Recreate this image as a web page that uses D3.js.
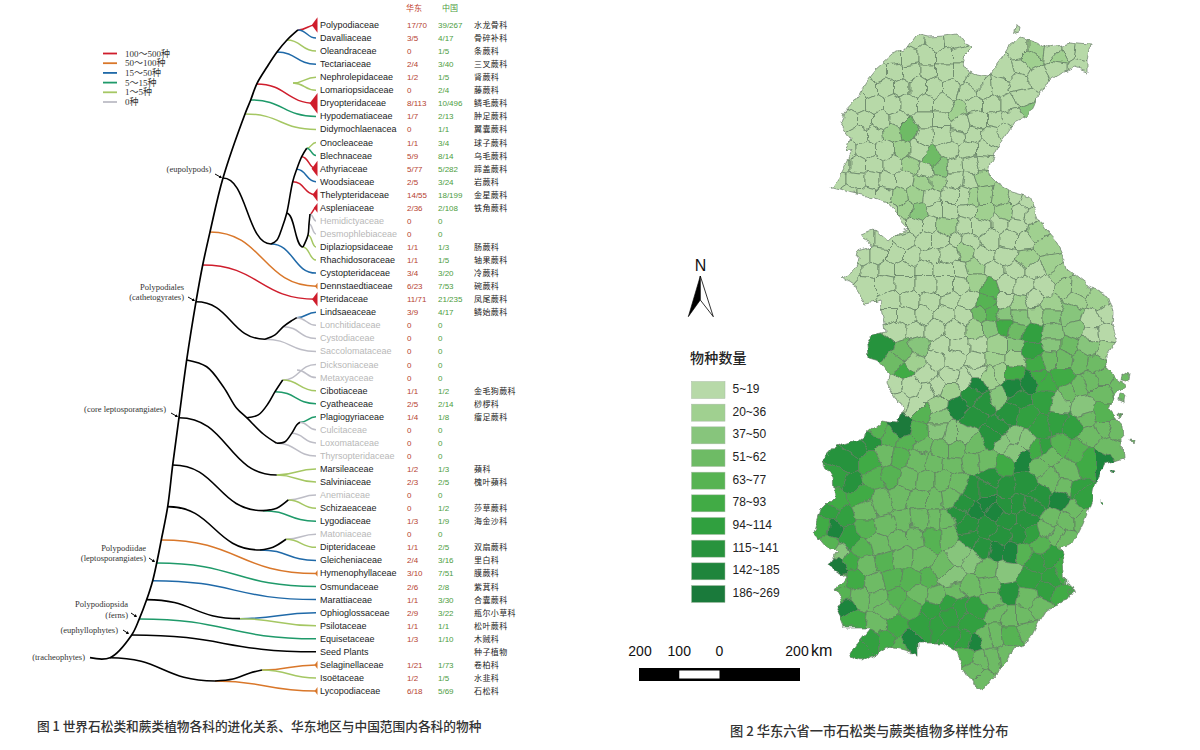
<!DOCTYPE html>
<html lang="zh"><head><meta charset="utf-8">
<script src="https://cdn.jsdelivr.net/npm/d3@7/dist/d3.min.js"></script>
<style>html,body{margin:0;background:#fff}svg{display:block}</style></head>
<body><svg id="c" width="1200" height="750"></svg>
<script>
// ---------- data ----------
const families=["Polypodiaceae","Davalliaceae","Oleandraceae","Tectariaceae","Nephrolepidaceae","Lomariopsidaceae","Dryopteridaceae","Hypodematiaceae","Didymochlaenacea","Onocleaceae","Blechnaceae","Athyriaceae","Woodsiaceae","Thelypteridaceae","Aspleniaceae","Hemidictyaceae","Desmophlebiaceae","Diplaziopsidaceae","Rhachidosoraceae","Cystopteridaceae","Dennstaedtiaceae","Pteridaceae","Lindsaeaceae","Lonchitidaceae","Cystodiaceae","Saccolomataceae","Dicksoniaceae","Metaxyaceae","Cibotiaceae","Cyatheaceae","Plagiogyriaceae","Culcitaceae","Loxomataceae","Thyrsopteridaceae","Marsileaceae","Salviniaceae","Anemiaceae","Schizaeaceae","Lygodiaceae","Matoniaceae","Dipteridaceae","Gleicheniaceae","Hymenophyllaceae","Osmundaceae","Marattiaceae","Ophioglossaceae","Psilotaceae","Equisetaceae","Seed Plants","Selaginellaceae","Isoëtaceae","Lycopodiaceae"];
const eastCounts=["17/70","3/5","0","2/4","1/2","0","8/113","1/7","0","1/1","5/9","5/77","2/5","14/55","2/36","0","0","1/1","1/1","3/4","6/23","11/71","3/9","0","0","0","0","0","1/1","2/5","1/4","0","0","0","1/2","2/3","0","0","1/3","0","1/1","2/4","3/10","2/6","1/1","2/9","1/1","1/3","","1/21","1/2","6/18"];
const chinaCounts=["39/267","4/17","1/5","3/40","1/5","2/4","10/496","2/13","1/1","3/4","8/14","5/282","3/24","18/199","2/108","0","0","1/3","1/5","3/20","7/53","21/235","4/17","0","0","0","0","0","1/2","2/14","1/8","0","0","0","1/3","2/5","0","1/2","1/9","0","2/5","3/16","7/51","2/8","3/30","3/22","1/1","1/10","","1/73","1/5","5/69"];
const cnNames=["水龙骨科","骨碎补科","条蕨科","三叉蕨科","肾蕨科","藤蕨科","鳞毛蕨科","肿足蕨科","翼囊蕨科","球子蕨科","乌毛蕨科","蹄盖蕨科","岩蕨科","金星蕨科","铁角蕨科","","","肠蕨科","轴果蕨科","冷蕨科","碗蕨科","凤尾蕨科","鳞始蕨科","","","","","","金毛狗蕨科","桫椤科","瘤足蕨科","","","","蘋科","槐叶蘋科","","莎草蕨科","海金沙科","","双扇蕨科","里白科","膜蕨科","紫萁科","合囊蕨科","瓶尔小草科","松叶蕨科","木贼科","种子植物","卷柏科","水韭科","石松科"];
// tree nodes as [age, row]
const backbone=[[0,48.45],[20,48.45],[41.7,46.71],[49.3,45.48],[56.7,44.0],[62.7,42.55],[66.7,41.2],[71.3,39.43],[77.7,36.88],[82.7,33.69],[89,30.07],[96.7,25.65],[106,21.19],[112.7,18.38],[120,15.85],[133,11.72],[155,6.81],[160.7,5.74],[166.7,4.52],[177,3.22],[187,2.07],[197,1.15],[208,0.38]];
// leaf branches: start node per family, same order as families
const leafStart=[[208,.38],[208,.38],[197,1.15],[187,2.07],[203,4.44],[203,4.44],[166.7,4.52],[160.7,5.74],[155,6.81],[216.7,9.44],[216.7,9.44],[211.7,10.08],[206.7,11.05],[202.7,12.0],[220,14.47],[220,14.47],[219,15.24],[218,16.08],[213,17.0],[181,16.77],[120,15.85],[112.7,18.38],[206.7,22.41],[206.7,22.41],[193.3,23.1],[175,24.06],[192.7,27.18],[207,26.42],[192.7,27.18],[185,28.08],[210,30.42],[210,30.42],[201.7,31.27],[186.7,32.03],[186.7,34.46],[186.7,34.46],[198.3,36.37],[198.3,36.37],[173,37.19],[196,39.38],[196,39.38],[170,40.2],[71.3,39.43],[66.7,41.2],[62.7,42.55],[150,45.46],[150,45.46],[49.3,45.48],[41.7,46.71],[172,49.39],[172,49.39],[125,50.23]];
// S-shaped internal stems
const stems=[[[133,11.72],[181,16.77]],[[196.7,14.42],[213,17.0]],[[106,21.19],[175,24.06]],[[89,30.07],[186.7,34.46]],[[82.7,33.69],[173,37.19]],[[77.7,36.88],[170,40.2]],[[56.7,44.0],[150,45.46]],[[20,48.45],[125,50.23]]];
// internal stems read point by point
const risers=[
 [[181,16.77],[187,16.46],[192,15.54],[196.7,14.42],[202.7,12.0],[206.7,11.05],[211.7,10.08],[216.7,9.44]],
 [[213,17.0],[218,16.08],[219,15.24],[220,14.47]],
 [[175,24.06],[185,23.73],[193.3,23.1],[201.7,22.64],[206.7,22.41]],
 [[96.7,25.65],[116.7,26.17],[133.3,27.7],[146.7,29.35],[156.7,30.07],[173.3,31.32],[186.7,32.03]],
 [[156.7,30.07],[168.3,29.86],[178.3,28.97],[185,28.08],[192.7,27.18]],
 [[186.7,32.03],[195,31.91],[201.7,31.27],[206.7,30.63],[210,30.42]],
 [[173,37.19],[186.7,37.0],[198.3,36.37]],
 [[170,40.2],[183,39.99],[196,39.38]],
 [[125,50.23],[143,50.08],[160,49.62],[172,49.39]]];
const legendLabels=["100～500种","50～100种","15～50种","5～15种","1～5种","0种"];
const legendTotals=[200,60,20,10,2,0];
const cladeNames=[["(eupolypods)"],["Polypodiales","(cathetogyrates)"],["(core leptosporangiates)"],["Polypodiidae","(leptosporangiates)"],["Polypodiopsida","(ferns)"],["(euphyllophytes)"],["(tracheophytes)"]];
const speciesClasses=["5~19","20~36","37~50","51~62","63~77","78~93","94~114","115~141","142~185","186~269"];
const scaleTicks=[-200,-100,0,200];
const scaleLabels=["200","100","0","200"];
// map outline: [east, north-down] in map units
const mapOutline=[[117,33],[130,36],[145,35],[158,33],[165,42],[172,48],[162,58],[165,68],[177,75],[188,77],[193,70],[202,58],[210,45],[222,37],[237,42],[247,48],[260,45],[270,43],[290,45],[287,62],[287,72],[275,68],[263,73],[253,80],[238,92],[233,105],[227,117],[215,123],[207,135],[198,147],[190,163],[188,173],[198,183],[212,192],[230,197],[238,217],[247,232],[257,243],[265,260],[268,270],[287,285],[307,295],[313,313],[312,323],[317,340],[307,355],[307,370],[327,385],[315,395],[310,410],[322,425],[324,457],[305,463],[295,483],[292,500],[283,523],[273,543],[260,547],[263,560],[265,583],[275,588],[267,600],[248,607],[240,620],[230,640],[213,650],[207,662],[192,678],[183,690],[173,683],[165,670],[158,652],[143,643],[117,643],[117,655],[105,650],[87,647],[62,662],[50,656],[60,640],[70,628],[43,628],[35,607],[43,595],[36,590],[45,577],[28,565],[38,550],[27,547],[15,533],[22,510],[35,497],[33,480],[23,460],[35,447],[57,440],[82,420],[98,422],[102,413],[100,405],[87,382],[88,372],[78,360],[68,357],[67,345],[73,335],[85,332],[80,300],[67,303],[57,287],[42,277],[55,267],[58,253],[73,247],[63,233],[73,229],[88,242],[98,233],[108,228],[98,217],[90,205],[67,197],[50,193],[32,188],[42,172],[53,150],[45,152],[50,137],[40,123],[43,113],[55,100],[67,80],[75,70],[92,55],[105,50]];
const mapIslands=[[[322,372],[329,374],[328,381],[321,379]],[[321,394],[326,395],[325,402],[320,400]],[[268,590],[273,588],[275,594],[269,596]],[[216,26],[220,28],[219,33],[215,31]],[[318,412],[322,414],[320,419]],[[330,440],[333,441],[332,445]],[[312,470],[315,471],[313,474]],[[300,500],[303,501],[301,504]]];
// county seeds: [east, north-down, species class]
const countySeeds=[
[115,40,0],[135,42,0],[155,40,0],[93,56,0],[110,56,0],[128,56,0],[145,56,0],[160,56,0],[220,50,0],[236,50,1],[252,52,0],[268,52,0],[282,54,0],
[78,72,0],[95,72,0],[112,72,0],[128,72,0],[145,72,0],[160,72,0],[176,82,0],[205,70,0],[222,66,0],[230,60,1],[258,57,1],[278,68,0],
[68,88,0],[85,88,0],[102,88,0],[118,88,0],[135,88,0],[150,88,0],[168,92,0],[185,90,0],[200,88,0],[218,82,0],[238,75,0],[256,68,0],
[58,104,0],[75,104,0],[92,104,0],[108,104,0],[125,104,0],[142,104,0],[155,113,1],[175,104,0],[192,104,0],[208,104,0],[222,98,0],[227,110,2],
[50,120,0],[65,120,0],[82,120,0],[98,120,0],[125,120,0],[142,120,0],[160,124,0],[178,120,0],[195,120,0],[212,118,0],
[58,135,0],[75,135,0],[93,133,1],[108,130,3],[125,136,0],[142,135,0],[158,136,0],[175,135,0],[192,136,0],[204,130,0],
[48,150,0],[66,150,0],[85,150,0],[100,150,1],[118,150,0],[132,160,3],[150,150,0],[168,150,0],[185,150,0],
[42,165,0],[58,165,0],[75,165,0],[93,165,0],[110,167,1],[125,170,0],[140,167,2],[155,166,0],[172,165,0],[184,162,0],
[38,180,0],[56,180,0],[72,180,0],[88,180,0],[105,180,0],[122,183,1],[138,182,1],[155,180,0],[170,182,0],[182,178,1],
[48,195,0],[68,195,0],[85,195,0],[97,197,1],[115,195,1],[132,197,0],[150,195,0],[165,195,0],[173,197,1],[185,195,1],[200,197,1],[215,200,0],[226,205,0],
[90,210,0],[105,210,1],[120,213,2],[135,210,0],[150,210,0],[168,212,0],[185,212,1],[205,210,1],[220,212,0],[232,215,0],
[100,226,0],[115,226,0],[130,226,0],[147,227,1],[165,226,0],[180,226,0],[200,226,0],[218,226,0],[238,230,1],
[68,240,0],[80,240,0],[105,240,0],[125,240,0],[140,240,0],[155,240,0],[170,242,0],[190,240,0],[208,240,0],[225,240,0],[247,247,1],
[62,255,0],[78,255,0],[95,255,0],[112,255,0],[130,255,0],[150,255,0],[165,250,1],[185,255,0],[205,255,0],[227,260,1],[250,263,1],
[52,270,0],[70,270,0],[88,270,0],[105,270,0],[125,270,0],[145,270,0],[162,270,0],[175,267,1],[195,270,0],[215,270,0],[235,270,0],[258,275,1],
[68,285,0],[85,285,0],[105,285,0],[125,285,0],[145,285,0],[160,285,0],[175,283,1],[190,290,4],[205,285,0],[225,285,0],[245,285,0],[263,287,1],[280,288,1],
[90,300,0],[110,300,0],[130,300,0],[150,300,0],[170,300,0],[185,303,4],[205,300,0],[220,305,1],[235,300,0],[250,305,1],[275,300,1],[297,303,1],
[90,315,0],[105,315,0],[125,315,0],[145,315,0],[165,315,0],[180,313,3],[193,312,4],[203,315,2],[220,317,2],[236,315,1],[250,315,2],[270,312,2],[293,320,0],[305,315,0],
[95,330,0],[115,330,0],[135,330,0],[155,330,0],[175,330,1],[190,330,2],[203,327,5],[217,330,3],[233,333,6],[252,335,2],[275,332,2],[292,335,0],[307,333,0],
[82,347,7],[102,353,3],[120,348,2],[140,345,0],[160,345,0],[178,345,0],[198,345,1],[215,345,2],[233,350,6],[252,345,2],[270,345,3],[290,345,2],[305,350,1],
[95,362,3],[115,362,1],[135,360,0],[155,360,0],[175,360,0],[195,360,1],[215,360,1],[237,364,5],[250,360,3],[263,360,3],[280,362,3],[295,364,3],
[103,372,5],[125,374,0],[150,377,0],[140,386,0],[165,380,0],[177,373,0],[190,378,1],[200,373,1],[213,373,5],[237,377,5],[263,377,5],[290,380,3],[303,378,3],
[95,385,0],[110,387,0],[127,393,0],[150,390,1],[170,393,7],[177,385,8],[185,400,7],[197,397,2],[213,387,8],[230,381,8],[245,385,5],[280,387,3],[270,392,3],[303,393,3],[317,387,3],
[100,400,0],[115,405,0],[135,405,1],[157,407,8],[173,418,7],[220,400,7],[243,400,6],[260,403,2],[283,407,2],[303,413,4],
[123,413,4],[140,418,2],[210,413,7],[227,417,6],[240,427,6],[257,423,6],[273,427,6],[287,420,3],[303,428,3],[315,432,3],
[70,440,7],[57,447,7],[77,430,4],[90,437,4],[102,428,9],[107,442,4],[117,432,4],[125,445,3],[140,430,2],[150,433,2],[165,433,2],[175,445,3],[155,450,3],[140,450,3],[190,437,7],[200,427,7],[205,445,2],[215,437,2],[225,440,2],[238,448,5],[243,447,6],[290,433,3],[310,447,3],
[47,463,7],[70,463,5],[40,477,6],[53,483,7],[85,455,3],[100,458,4],[118,460,3],[135,463,3],[153,465,3],[172,462,3],[187,460,3],[205,462,5],[223,462,8],[213,452,2],[250,457,3],[240,467,3],[267,470,3],[287,463,5],[302,463,8],[275,450,4],[262,445,4],
[75,478,4],[92,475,4],[108,478,3],[125,480,3],[143,480,3],[158,482,3],[173,490,7],[190,480,7],[205,490,7],[227,483,7],[250,480,3],[265,488,3],[277,490,6],[60,495,5],[35,500,5],
[30,512,6],[43,517,6],[65,510,3],[82,505,3],[100,497,3],[118,500,3],[135,500,3],[150,498,3],[185,503,8],[167,523,7],[187,527,7],[207,520,7],[217,533,7],[233,507,7],[260,500,8],[283,497,6],[273,510,3],
[165,505,7],[205,505,7],[218,505,7],[226,520,7],[195,512,8],[175,510,8],[185,490,7],[240,495,7],[158,515,7],[170,540,7],[197,552,8],[210,552,8],[183,548,7],
[25,527,5],[33,528,8],[50,537,6],[65,528,4],[85,525,3],[102,520,3],[120,518,3],[135,520,3],[145,520,3],[253,517,3],[267,520,3],[283,520,3],[248,530,3],
[40,553,2],[28,545,4],[62,550,4],[80,545,3],[98,540,3],[115,540,3],[132,538,4],[148,537,3],[203,535,7],[230,535,6],[240,545,4],[255,535,3],[265,540,3],
[37,567,9],[50,560,5],[68,565,3],[85,562,4],[103,558,3],[122,560,3],[143,567,3],[160,552,2],[172,562,2],[187,570,3],[223,552,4],[237,563,6],[250,557,6],[207,573,2],
[40,583,4],[53,580,5],[75,582,3],[92,578,4],[110,580,4],[128,578,4],[153,577,2],[170,587,3],[190,585,3],[230,580,6],[253,577,6],[263,570,5],
[43,595,4],[60,597,3],[78,600,3],[98,598,4],[118,595,3],[135,598,3],[155,592,3],[190,600,3],[210,593,7],[227,597,3],[245,592,6],[262,595,5],
[45,607,8],[53,620,5],[77,623,3],[85,610,3],[110,607,4],[133,607,6],[150,603,6],[160,607,6],[177,607,6],[197,613,3],[210,617,3],[223,617,3],[240,605,3],
[70,640,6],[87,640,5],[97,627,5],[110,640,8],[123,627,6],[137,627,6],[150,617,6],[170,623,6],[197,637,3],[210,635,4],[225,630,3],
[60,650,6],[100,645,4],[150,637,6],[175,643,8],[165,640,6],[185,640,3],[167,657,4],[180,660,3],[193,657,3],[205,655,3],[173,670,3],[183,680,3]];

// ---------- layout ----------
const svg=d3.select("#c");
const latin="'Liberation Sans',Arial,sans-serif", serif="'Liberation Serif','Times New Roman',serif", cjk="'Noto Sans CJK SC',sans-serif";
const x=d3.scaleLinear().domain([0,227]).range([90,317]);
const y=d3.scaleLinear().domain([0,51]).range([25,691]);
const levelColor=d3.scaleThreshold().domain([1,6,15,50,100]).range(["#bdbdc6","#a5c763","#1f9a6a","#1f69a8","#d9772a","#cf1d2c"]);
const totalOf=s=>s===""?null:+s.split("/").pop();
const triSize=d3.scaleSqrt().domain([0,500]).range([0,10.5]);
const link=d3.linkHorizontal().x(d=>x(d[0])).y(d=>y(d[1]));
const g=svg.append("g").attr("fill","none");

families.forEach((f,i)=>{
  const t=totalOf(chinaCounts[i]);
  g.append("path").attr("d",link({source:leafStart[i],target:[226,i]}))
    .attr("stroke",t===null?"#000":levelColor(t)).attr("stroke-width",1.5);
});
stems.forEach(s=>g.append("path").attr("d",link({source:s[0],target:s[1]})).attr("stroke","#000").attr("stroke-width",1.6));
const smooth=d3.line().x(d=>x(d[0])).y(d=>y(d[1])).curve(d3.curveCatmullRom.alpha(.5));
risers.forEach(r=>g.append("path").attr("d",smooth(r)).attr("stroke","#000").attr("stroke-width",1.6));
g.append("path").attr("d",smooth(backbone)).attr("stroke","#000").attr("stroke-width",1.7);
families.forEach((f,i)=>{
  const t=totalOf(chinaCounts[i]);
  if(t===null||t<50) return;
  const h=triSize(t), yy=y(i), bx=x(227.5);
  g.append("path").attr("d",d3.line()([[bx-h*.75,yy],[bx,yy-h],[bx,yy+h]])+"Z").attr("fill",levelColor(t));
});
const rows=svg.append("g");
families.forEach((f,i)=>{
  const yy=y(i)+3;
  const zero=totalOf(chinaCounts[i])===0;
  rows.append("text").attr("x",320).attr("y",yy).text(f).attr("font-family",latin).attr("font-size",9).attr("fill",zero?"#b8b8b8":"#1c1c1c");
  rows.append("text").attr("x",407).attr("y",yy).text(eastCounts[i]).attr("font-family",latin).attr("font-size",8).attr("fill","#b5412f");
  rows.append("text").attr("x",438).attr("y",yy).text(chinaCounts[i]).attr("font-family",latin).attr("font-size",8).attr("fill","#4c9c3e");
  rows.append("text").attr("x",474).attr("y",yy).text(cnNames[i]).attr("font-family",cjk).attr("font-size",8).attr("letter-spacing",.4).attr("fill","#222");
});
rows.append("text").attr("x",406).attr("y",11).text("华东").attr("font-family",cjk).attr("font-size",8).attr("fill","#c1402c");
rows.append("text").attr("x",442).attr("y",11).text("中国").attr("font-family",cjk).attr("font-size",8).attr("fill","#4c9c3e");

legendLabels.forEach((l,i)=>{
  const ly=d3.scaleLinear().domain([0,5]).range([53.5,102])(i);
  svg.append("line").attr("x1",103).attr("x2",117).attr("y1",ly).attr("y2",ly).attr("stroke",levelColor(legendTotals[i])).attr("stroke-width",1.8);
  svg.append("text").attr("x",125).attr("y",ly+3).text(l).attr("font-family",serif+","+cjk).attr("font-size",9).attr("fill","#333");
});
const cladeLayout=[{a:189,ys:[172],anchor:"middle",arrow:[215,174,222,178]},
 {a:184,ys:[290,300],anchor:"end",arrow:[188,297,195,301]},
 {a:166,ys:[412],anchor:"end",arrow:[171,413,178,417]},
 {a:146,ys:[551,561],anchor:"end",arrow:[149,558,155,562]},
 {a:128,ys:[607,618],anchor:"end",arrow:[131,613,137,617]},
 {a:118,ys:[633],anchor:"end",arrow:[123,630,129,634]},
 {a:85,ys:[660],anchor:"end",arrow:null}];
cladeNames.forEach((lines,i)=>{
  const L=cladeLayout[i];
  lines.forEach((t,j)=>svg.append("text").attr("x",L.a).attr("y",L.ys[j]).attr("text-anchor",L.anchor).text(t).attr("font-family",serif).attr("font-size",8.5).attr("fill","#333"));
  if(L.arrow){const [a,b,c,d]=L.arrow;
    svg.append("line").attr("x1",a).attr("y1",b).attr("x2",c-1).attr("y2",d-.6).attr("stroke","#000").attr("stroke-width",1);
    const ang=Math.atan2(d-b,c-a),s=3.2;
    svg.append("path").attr("d",d3.line()([[c,d],[c-s*Math.cos(ang-.55),d-s*Math.sin(ang-.55)],[c-s*Math.cos(ang+.55),d-s*Math.sin(ang+.55)]])+"Z").attr("fill","#000");}
});
svg.append("text").attr("x",37).attr("y",731).text("图 1 世界石松类和蕨类植物各科的进化关系、华东地区与中国范围内各科的物种").attr("font-family",cjk).attr("font-size",12.7).attr("font-weight",500).attr("fill","#333");
svg.append("text").attr("x",730).attr("y",736).text("图 2 华东六省一市石松类与蕨类植物多样性分布").attr("font-family",cjk).attr("font-size",13.25).attr("font-weight",500).attr("fill","#333");

// ---------- map ----------
const mx=d3.scaleLinear().domain([0,400]).range([800,1200]);
const my=d3.scaleLinear().domain([0,750]).range([0,750]);
const classColor=d3.scaleOrdinal().domain(d3.range(10)).range(["#b7d9a8","#a0d090","#87c57c","#6ebb65","#57b352","#41ab45","#30a03f","#28933d","#1f853c","#1a7a3b"]);
const ringPath=d3.line().x(d=>mx(d[0])).y(d=>my(d[1]));
const outlinePath=[mapOutline,...mapIslands].map(r=>ringPath(r)+"Z").join("");
const defs=svg.append("defs");
defs.append("clipPath").attr("id","land").append("path").attr("d",outlinePath);
const wob=defs.append("filter").attr("id","wobble").attr("x","-5%").attr("y","-5%").attr("width","110%").attr("height","110%").attr("filterUnits","objectBoundingBox");
wob.append("feTurbulence").attr("type","fractalNoise").attr("baseFrequency",.07).attr("numOctaves",3).attr("seed",4).attr("result","n");
wob.append("feDisplacementMap").attr("in","SourceGraphic").attr("in2","n").attr("scale",9).attr("xChannelSelector","R").attr("yChannelSelector","G");
const vor=d3.Delaunay.from(countySeeds,d=>mx(d[0]),d=>my(d[1])).voronoi([800,0,1200,720]);
const mapWrap=svg.append("g").attr("filter","url(#wobble)");
const mapG=mapWrap.append("g").attr("clip-path","url(#land)");
countySeeds.forEach((s,i)=>{
  mapG.append("path").attr("d",vor.renderCell(i)).attr("fill",classColor(s[2])).attr("stroke","#5f7a60").attr("stroke-width",.7).attr("stroke-linejoin","round");
});
mapWrap.append("path").attr("d",outlinePath).attr("fill","none").attr("stroke","#6a7d6a").attr("stroke-width",.7);

const legY=d3.scaleLinear().domain([0,9]).range([381.5,585.5]);
svg.append("text").attr("x",690).attr("y",363).text("物种数量").attr("font-family",cjk).attr("font-size",14).attr("font-weight",500).attr("letter-spacing",.2).attr("fill","#222");
speciesClasses.forEach((c,i)=>{
  svg.append("rect").attr("x",691.5).attr("y",legY(i)).attr("width",33.5).attr("height",17).attr("fill",classColor(i)).attr("stroke","#a9bca6").attr("stroke-width",.5);
  svg.append("text").attr("x",732.5).attr("y",legY(i)+11.5).text(c).attr("font-family",latin).attr("font-size",12).attr("fill","#222");
});
svg.append("text").attr("x",700.5).attr("y",271).attr("text-anchor","middle").text("N").attr("font-family",latin).attr("font-size",16).attr("fill","#111");
svg.append("path").attr("d","M700.3,276 L688.3,316.7 L700.3,300 Z").attr("fill","#000").attr("stroke","#000").attr("stroke-width",.6);
svg.append("path").attr("d","M700.3,276 L713.3,316.7 L700.3,300 Z").attr("fill","#fff").attr("stroke","#000").attr("stroke-width",.8);
// scale bar
const km=d3.scaleLinear().domain([-200,200]).range([639,800]);
svg.append("rect").attr("x",km(-200)).attr("y",668).attr("width",km(200)-km(-200)).attr("height",13).attr("fill","#000");
svg.append("rect").attr("x",km(-100)).attr("y",670.5).attr("width",km(0)-km(-100)).attr("height",8).attr("fill","#fff");
scaleTicks.forEach((t,i)=>svg.append("text").attr("x",km(t)+(i===0?1:0)-(i===3?3:0)).attr("y",656).attr("text-anchor","middle").text(scaleLabels[i]).attr("font-family",latin).attr("font-size",14).attr("fill","#111"));
svg.append("text").attr("x",811).attr("y",656).text("km").attr("font-family",latin).attr("font-size",16).attr("fill","#111");
</script></body></html>
